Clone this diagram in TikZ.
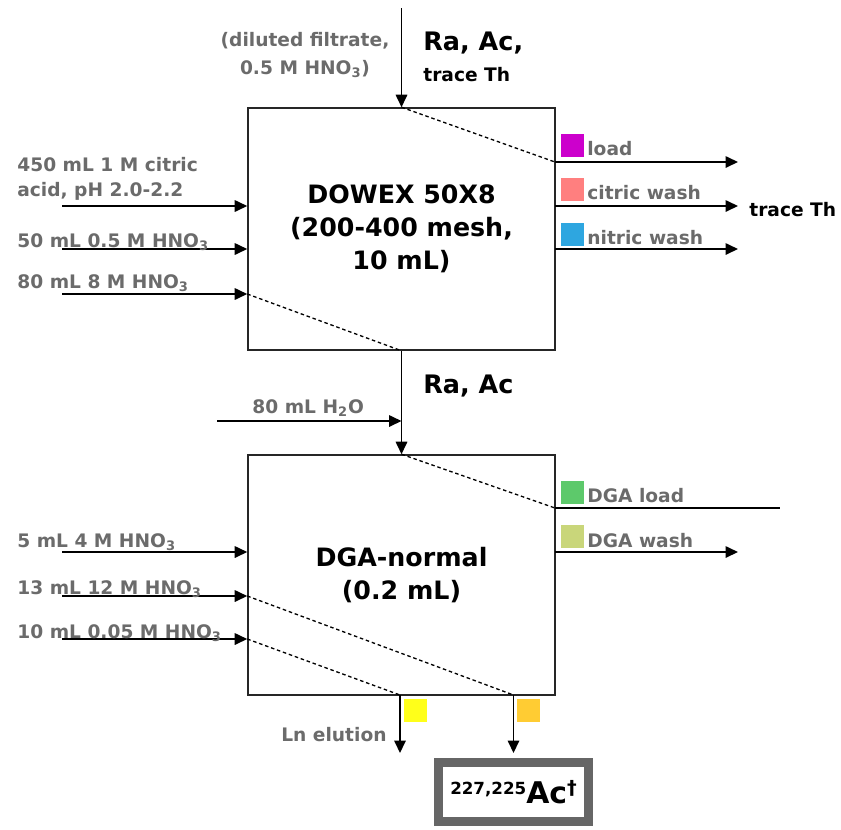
\documentclass[tikz,border=0pt]{standalone}
\usepackage{fontspec}
\setmainfont{DejaVu Sans}
\usepackage{xcolor}
\usetikzlibrary{arrows.meta,positioning}

\definecolor{lblgray}{HTML}{6B6B6B}
\definecolor{acframe}{HTML}{666666}
\definecolor{fLoad}{HTML}{CC00CC}
\definecolor{fCitric}{HTML}{FF7F7F}
\definecolor{fNitric}{HTML}{2EA6E0}
\definecolor{fDgaLoad}{HTML}{5DC96B}
\definecolor{fDgaWash}{HTML}{C9D67A}
\definecolor{fLn}{HTML}{FFFF1A}
\definecolor{fAc}{HTML}{FFCC33}

\begin{document}
\begin{tikzpicture}[x=0.02cm, y=-0.02cm,
  colbox/.style={draw=black!85, line width=0.9pt, minimum width=6.14cm,
    inner sep=0pt, align=center, font=\bfseries\fontsize{14.4}{18.8}\selectfont},
  flow/.style={line width=0.95pt, -{Triangle[length=2.5mm,width=2.3mm]}},
  elu/.style={line width=0.75pt, dash pattern=on 2pt off 1.6pt},
  lbl/.style={text=lblgray, inner sep=0pt, align=left,
    font=\bfseries\fontsize{10.6}{14.2}\selectfont},
  ion/.style={inner sep=0pt, font=\bfseries\fontsize{14.5}{18}\selectfont},
  ionsm/.style={inner sep=0pt, font=\bfseries\fontsize{10.6}{13}\selectfont},
  fracsq/.style={minimum size=0.45cm, inner sep=0pt},
  acbox/.style={draw=acframe, line width=0.18cm, fill=white, minimum width=3.02cm,
    minimum height=1.18cm, inner sep=0pt}
]
\useasboundingbox (0,0) rectangle (841,829);

% columns
\node[colbox, minimum height=4.84cm] (dowex) at (401.5,229) {DOWEX 50X8\\(200-400 mesh,\\10 mL)};
\node[colbox, minimum height=4.8cm]  (dga)   at (401.5,575) {DGA-normal\\(0.2 mL)};
\node[acbox] (ac) at (513.5,792) {\raisebox{5pt}{\fontsize{9.5}{9.5}\selectfont\bfseries 227,225}%
  {\fontsize{17}{17}\selectfont\bfseries Ac}\raisebox{5.5pt}{\fontsize{11}{11}\selectfont\bfseries †}};

% feed of the DOWEX column
\coordinate (feed) at (401.5,8);
\draw[flow] (feed) -- (dowex.north);
\node[lbl, align=center, anchor=north, font=\bfseries\fontsize{10.6}{16}\selectfont] (feedlbl) at (305,32)
  {(diluted filtrate,\\0.5 M HNO\textsubscript{3})};
\node[ion, anchor=base west]   (raac)  at (423,50) {Ra, Ac,};
\node[ionsm, anchor=base west] (trth)  at (423,81) {trace Th};

% DOWEX inputs
\coordinate (inCit) at (62,206);
\coordinate (inNit) at (62,249);
\coordinate (inStr) at (62,294);
\draw[flow] (inCit) -- (inCit -| dowex.west);
\draw[flow] (inNit) -- (inNit -| dowex.west);
\draw[flow] (inStr) -- (inStr -| dowex.west);
\node[lbl, anchor=north west] (lCit) at (17,157) {450 mL 1 M citric\\acid, pH 2.0-2.2};
\node[lbl, anchor=base west]  (lNit) at (17,247) {50 mL 0.5 M HNO\textsubscript{3}};
\node[lbl, anchor=base west]  (lStr) at (17,288) {80 mL 8 M HNO\textsubscript{3}};

% DOWEX outputs
\coordinate (oLoad) at (555,162);  \coordinate (eLoad) at (738,162);
\coordinate (oCit)  at (555,206);  \coordinate (eCit)  at (738,206);
\coordinate (oNit)  at (555,249);  \coordinate (eNit)  at (738,249);
\draw[flow] (oLoad) -- (eLoad);
\draw[flow] (oCit) -- (eCit);
\draw[flow] (oNit) -- (eNit);
\draw[elu] (dowex.north) -- (oLoad);
\draw[elu] (inStr -| dowex.west) -- (dowex.south);
\node[fracsq, fill=fLoad, anchor=south west]   (sqLoad) at (561,157) {};
\node[fracsq, fill=fCitric, anchor=south west] (sqCit)  at (561,201) {};
\node[fracsq, fill=fNitric, anchor=south west] (sqNit)  at (561,246) {};
\node[lbl, anchor=base west] (tLoad) at (587,155) {load};
\node[lbl, anchor=base west] (tCit)  at (587,199) {citric wash};
\node[lbl, anchor=base west] (tNit)  at (587,244) {nitric wash};
\node[ionsm, right=0.22cm of eCit, yshift=-2pt] (thOut) {trace Th};

% transfer to DGA
\draw[flow] (dowex.south) -- (dga.north);
\node[ion, anchor=base west] (raac2) at (423,393) {Ra, Ac};
\coordinate (inWat) at (217,421);
\draw[flow] (inWat) -- (inWat -| dga.north);
\node[lbl, anchor=base west] (lWat) at (252,413) {80 mL H\textsubscript{2}O};

% DGA inputs
\coordinate (inD4)  at (62,552);
\coordinate (inD12) at (62,596);
\coordinate (inD05) at (62,639);
\draw[flow] (inD4) -- (inD4 -| dga.west);
\draw[flow] (inD12) -- (inD12 -| dga.west);
\draw[flow] (inD05) -- (inD05 -| dga.west);
\node[lbl, anchor=base west] (lD4)  at (17,547) {5 mL 4 M HNO\textsubscript{3}};
\node[lbl, anchor=base west] (lD12) at (17,594) {13 mL 12 M HNO\textsubscript{3}};
\node[lbl, anchor=base west] (lD05) at (17,638) {10 mL 0.05 M HNO\textsubscript{3}};

% DGA outputs
\coordinate (oDLoad) at (555,508);  \coordinate (eDLoad) at (780,508);
\coordinate (oDWash) at (555,552);  \coordinate (eDWash) at (738,552);
\draw[line width=0.95pt] (oDLoad) -- (eDLoad);
\draw[flow] (oDWash) -- (eDWash);
\draw[elu] (dga.north) -- (oDLoad);
\node[fracsq, fill=fDgaLoad, anchor=south west] (sqDLoad) at (561,504) {};
\node[fracsq, fill=fDgaWash, anchor=south west] (sqDWash) at (561,548) {};
\node[lbl, anchor=base west] (tDLoad) at (587,502) {DGA load};
\node[lbl, anchor=base west] (tDWash) at (587,547) {DGA wash};

% elutions
\coordinate (oLn)  at (400,695);  \coordinate (eLn) at (400,753);
\coordinate (oAc)  at (513.5,695);
\draw[flow] (oLn) -- (eLn);
\draw[flow, shorten >=1mm] (oAc) -- (ac.north);
\draw[elu] (inD05 -| dga.west) -- (oLn);
\draw[elu] (inD12 -| dga.west) -- (oAc);
\node[fracsq, fill=fLn, anchor=north west] (sqLn) at (404,699) {};
\node[fracsq, fill=fAc, anchor=north west] (sqAc) at (517,699) {};
\node[lbl, anchor=base west] (tLn) at (281,741) {Ln elution};
\end{tikzpicture}
\end{document}
